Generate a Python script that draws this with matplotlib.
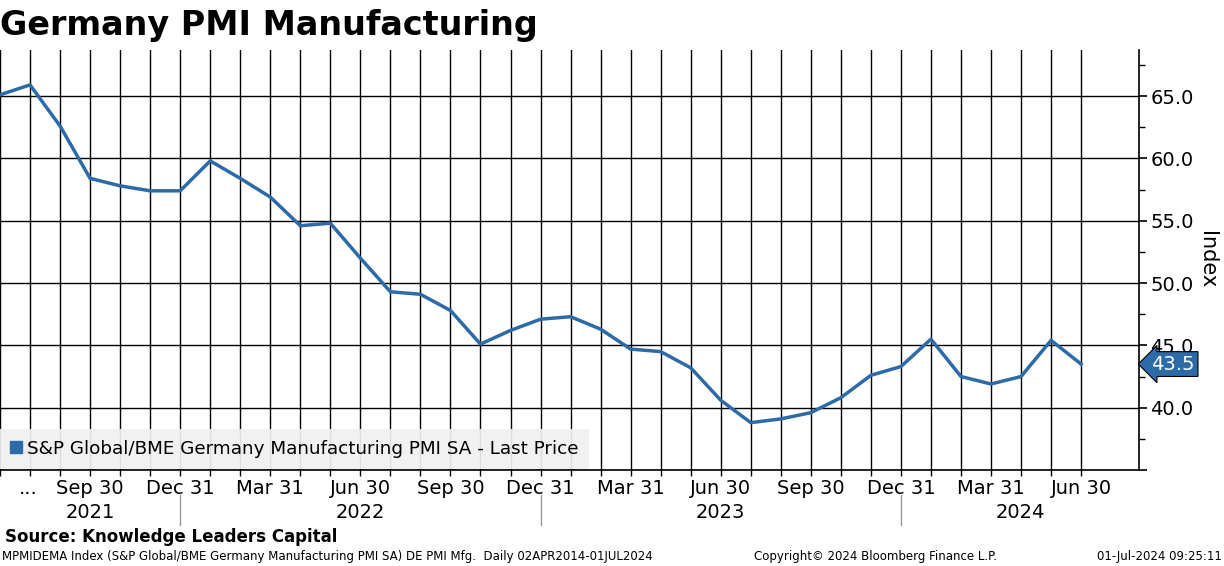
import numpy as np
import matplotlib
matplotlib.use("Agg")
import matplotlib.pyplot as plt
from matplotlib.lines import Line2D
from matplotlib.ticker import MultipleLocator, FixedLocator

# monthly values, Jun 2021 .. Jun 2024
months = ["Jun", "Jul", "Aug", "Sep", "Oct", "Nov", "Dec"] + \
         ["Jan", "Feb", "Mar", "Apr", "May", "Jun", "Jul", "Aug", "Sep", "Oct", "Nov", "Dec"] * 2 + \
         ["Jan", "Feb", "Mar", "Apr", "May", "Jun"]
pmi = [65.1, 65.9, 62.6, 58.4, 57.8, 57.4, 57.4,
       59.8, 58.4, 56.9, 54.6, 54.8, 52.0, 49.3, 49.1, 47.8, 45.1, 46.2, 47.1,
       47.3, 46.3, 44.7, 44.5, 43.2, 40.6, 38.8, 39.1, 39.6, 40.8, 42.6, 43.3,
       45.5, 42.5, 41.9, 42.5, 45.4, 43.5]

quarter_idx = [3, 6, 9, 12, 15, 18, 21, 24, 27, 30, 33, 36]
quarter_labels = ["Sep 30", "Dec 31", "Mar 31", "Jun 30", "Sep 30", "Dec 31",
                  "Mar 31", "Jun 30", "Sep 30", "Dec 31", "Mar 31", "Jun 30"]
years = ["2021", "2022", "2023", "2024"]
year_breaks = [6, 18, 30]

blue = "#2d6aa8"
x = np.arange(len(pmi))
xmax = 37.93

fig = plt.figure(figsize=(12.24, 5.66), dpi=100)
ax = fig.add_axes([0.0, 0.1696, 0.9306, 0.7421])

ax.plot(x, pmi, color=blue, lw=2.5, zorder=3)

ax.set_xlim(0, xmax)
ax.set_ylim(35, 68.7)

ax.xaxis.set_major_locator(FixedLocator(x))
ax.set_xticklabels([])
ax.tick_params(axis="x", which="major", length=4, width=1, color="black")
ax.grid(True, axis="x", color="black", lw=1)
ax.grid(True, axis="y", which="major", color="black", lw=1)

ax.yaxis.tick_right()
ax.yaxis.set_minor_locator(MultipleLocator(2.5))
ax.set_yticks([35, 40, 45, 50, 55, 60, 65])
ax.set_yticklabels(["", "40.0", "45.0", "50.0", "55.0", "60.0", "65.0"])
ax.tick_params(axis="y", which="major", length=6, width=1.2, labelsize=14, pad=2)
ax.tick_params(axis="y", which="minor", length=4, width=1)
ax.yaxis.set_label_position("right")
ax.set_ylabel("Index", fontsize=15, rotation=-90, labelpad=17)

for s in ["top", "left"]:
    ax.spines[s].set_visible(False)
ax.spines["right"].set_linewidth(1.2)
ax.spines["bottom"].set_linewidth(1.2)

# quarter labels
trans = ax.get_xaxis_transform()
for i, lab in zip(quarter_idx, quarter_labels):
    ax.text(i, -0.045, lab, transform=trans, ha="center", va="center", fontsize=14)
ax.text(0.95, -0.045, "...", transform=trans, ha="center", va="center", fontsize=14)

# year labels and separators
edges = [0] + year_breaks + [xmax]
for k, yr in enumerate(years):
    mid = (edges[k] + edges[k + 1]) / 2
    ax.text(mid, -0.1, yr, transform=trans, ha="center", va="center", fontsize=14)
for b in year_breaks:
    ax.plot([b, b], [-0.06, -0.13], transform=trans, color="#999999", lw=1, clip_on=False)

# legend
handle = Line2D([], [], marker="s", color=blue, ls="none", markersize=9)
leg = ax.legend([handle], ["S&P Global/BME Germany Manufacturing PMI SA - Last Price"],
                loc="lower left", bbox_to_anchor=(0, 0.003), borderaxespad=0, fontsize=13.2,
                frameon=True, fancybox=False, handlelength=0.6, handletextpad=0.25,
                borderpad=0.6)
leg.get_frame().set_facecolor("#f0f0f0")
leg.get_frame().set_edgecolor("none")
leg.get_frame().set_alpha(0.92)
leg.set_zorder(5)

# last price tag
ax.annotate(f"{pmi[-1]:.1f}", xy=(1.0, pmi[-1]), xycoords=("axes fraction", "data"),
            xytext=(9, 0), textcoords="offset points", ha="left", va="center",
            fontsize=14, color="white", annotation_clip=False,
            bbox=dict(boxstyle="larrow,pad=0.15", fc=blue, ec="black", lw=0.8))

fig.text(0.0, 0.955, "Germany PMI Manufacturing", fontsize=24, fontweight="bold", ha="left", va="center")
fig.text(0.004, 0.051, "Source: Knowledge Leaders Capital", fontsize=12, fontweight="bold", ha="left", va="center")
fig.text(0.002, 0.016, "MPMIDEMA Index (S&P Global/BME Germany Manufacturing PMI SA) DE PMI Mfg.  Daily 02APR2014-01JUL2024",
         fontsize=8.5, ha="left", va="center")
fig.text(0.715, 0.016, "Copyright\u00a9 2024 Bloomberg Finance L.P.", fontsize=8.5, ha="center", va="center")
fig.text(0.998, 0.016, "01-Jul-2024 09:25:11", fontsize=8.5, ha="right", va="center")

fig.savefig("out.png", dpi=100)
